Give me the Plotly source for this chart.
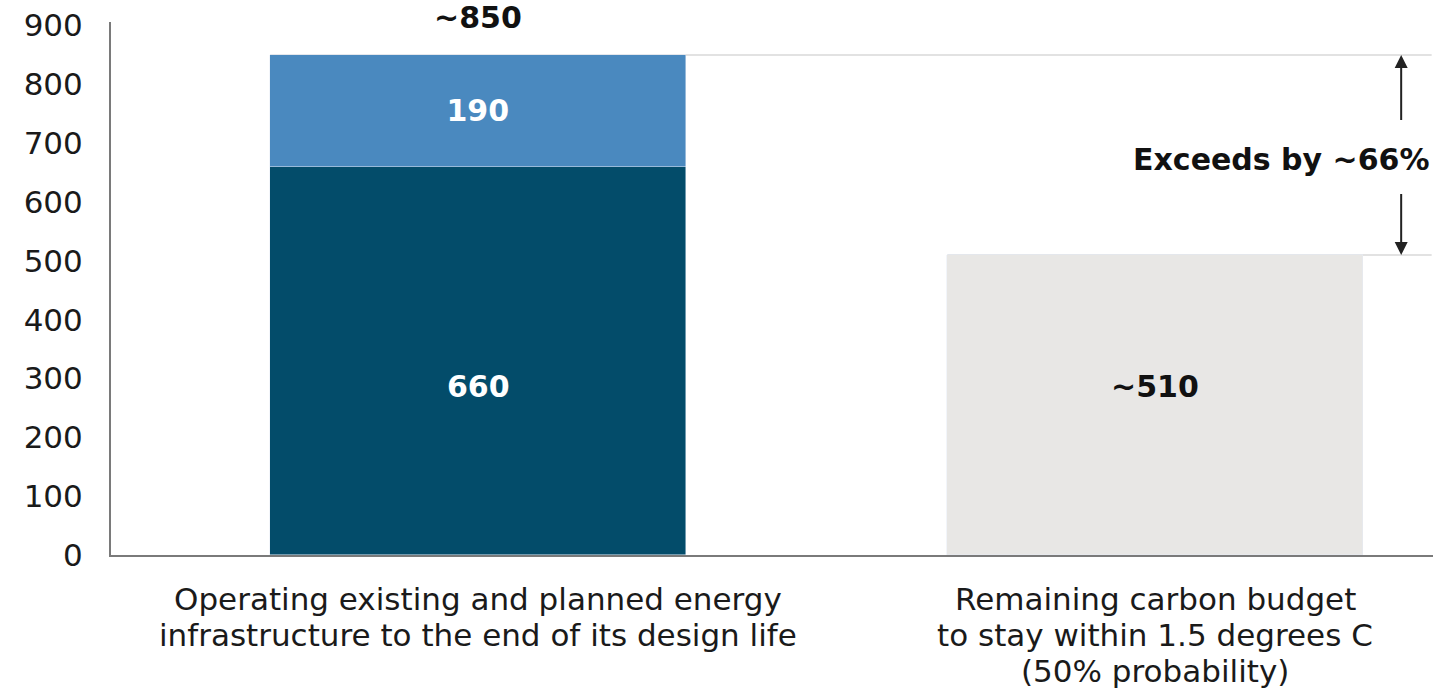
import plotly.graph_objects as go

# Cumulative CO2 emissions, Gt
categories = [
    ["Operating existing and planned energy",
     "infrastructure to the end of its design life"],
    ["Remaining carbon budget",
     "to stay within 1.5 degrees C",
     "(50% probability)"],
]
existing = [660, 0]
planned = [190, 0]
budget = [0, 510]
total_label = "~850"
budget_label = "~510"
exceed_label = "Exceeds by ~66%"
y_ticks = [0, 100, 200, 300, 400, 500, 600, 700, 800, 900]

FONT = "DejaVu Sans"
DARK = "#034c6a"
BLUE = "#4a89bf"
GREY = "#e8e7e5"
AXIS = "#7a7a7a"
TEXT = "#111111"

x = [0, 1]
bar_w = 0.614
total = existing[0] + planned[0]
label_level = 286  # common height for the lower value labels

fig = go.Figure()
fig.add_bar(x=[x[0]], y=[existing[0]], width=bar_w, marker_color=DARK)
fig.add_bar(x=[x[0]], y=[planned[0]], width=bar_w, marker_color=BLUE,
            text=[f"<b>{planned[0]}</b>"], textposition="inside",
            insidetextanchor="middle",
            textfont=dict(color="white", size=30, family=FONT))
fig.add_bar(x=[x[1]], y=[budget[1]], width=bar_w, marker_color=GREY)

fig.add_annotation(x=x[0], y=label_level, text=f"<b>{existing[0]}</b>", showarrow=False,
                   font=dict(size=30, family=FONT, color="white"))
fig.add_annotation(x=x[1], y=label_level, text=f"<b>{budget_label}</b>", showarrow=False,
                   font=dict(size=30, family=FONT, color=TEXT))

x_right = 1.408
arrow_x = 1.363

# reference lines at the top of each bar
fig.add_shape(type="line", x0=x[0] - bar_w / 2, x1=x_right, y0=total, y1=total,
              line=dict(color="#e2e2e2", width=2), layer="below")
fig.add_shape(type="line", x0=x[1] - bar_w / 2, x1=x_right, y0=budget[1], y1=budget[1],
              line=dict(color="#e2e2e2", width=2), layer="below")

# total above the stacked bar
fig.add_annotation(x=x[0], y=total, yshift=37, text=f"<b>{total_label}</b>",
                   showarrow=False, font=dict(size=30, family=FONT, color=TEXT))

# gap annotation with arrows
fig.add_annotation(x=x_right, y=(total + budget[1]) / 2 - 8, text=f"<b>{exceed_label}</b>",
                   xanchor="right", showarrow=False,
                   font=dict(size=30, family=FONT, color=TEXT))
fig.add_annotation(x=arrow_x, y=total, ax=arrow_x, ay=737, xref="x", yref="y",
                   axref="x", ayref="y", showarrow=True, arrowhead=2, arrowsize=1.3,
                   arrowwidth=2, arrowcolor="#222222", text="")
fig.add_annotation(x=arrow_x, y=budget[1], ax=arrow_x, ay=616, xref="x", yref="y",
                   axref="x", ayref="y", showarrow=True, arrowhead=2, arrowsize=1.3,
                   arrowwidth=2, arrowcolor="#222222", text="")

# category labels below the axis, one line each with tight spacing
line_gap = 36
for xi, lines in zip(x, categories):
    for k, line in enumerate(lines):
        fig.add_annotation(x=xi, y=0, xref="x", yref="paper", text=line,
                           showarrow=False, yanchor="middle",
                           yshift=-44 - k * line_gap,
                           font=dict(size=31, family=FONT, color="#1a1a1a"))

fig.update_layout(
    barmode="stack",
    width=1440, height=691,
    margin=dict(l=111, r=7, t=22, b=136),
    plot_bgcolor="white", paper_bgcolor="white",
    showlegend=False,
    font=dict(family=FONT, size=28, color=TEXT),
    bargap=0,
)
fig.update_xaxes(range=[-0.542, x_right + 0.002], showticklabels=False,
                 showline=True, linecolor=AXIS, linewidth=2, ticks="",
                 showgrid=False, zeroline=False)
fig.update_yaxes(range=[0, 906], tickvals=y_ticks, showline=True, linecolor=AXIS,
                 linewidth=2, showgrid=False, zeroline=False, ticks="",
                 ticklabelstandoff=20,
                 tickfont=dict(size=31, family=FONT, color="#1a1a1a"))

fig.write_html("out.html")
